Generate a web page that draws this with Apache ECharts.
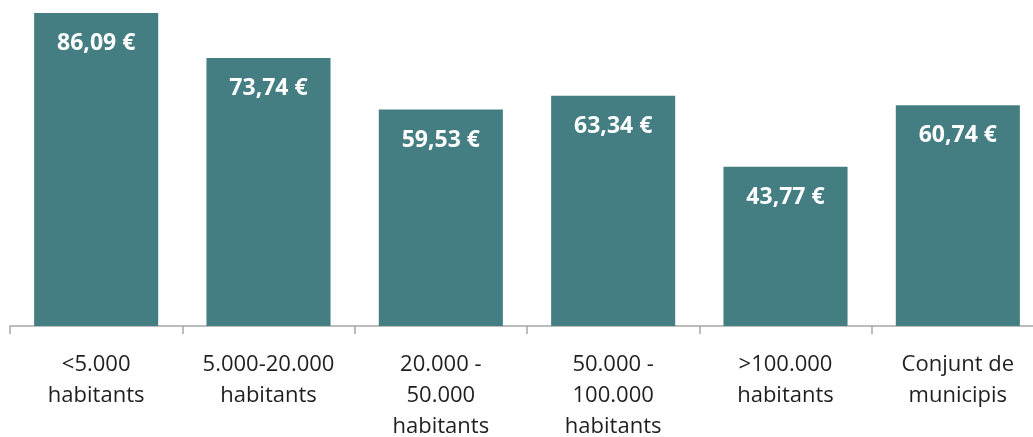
<!DOCTYPE html>
<html>
<head>
<meta charset="utf-8">
<script src="https://cdn.jsdelivr.net/npm/echarts@6/dist/echarts.min.js"></script>
<style>
  html, body { margin: 0; padding: 0; background: #fff; }
  #chart { width: 1033px; height: 437px; }
</style>
</head>
<body>
<div id="chart"></div>
<script>
// categories et valeurs (EUR par habitant)
let categories = ['<5.000\nhabitants', '5.000-20.000\nhabitants', '20.000 -\n50.000\nhabitants',
  '50.000 -\n100.000\nhabitants', '>100.000\nhabitants', 'Conjunt de\nmunicipis'];
let values = [86.09, 73.74, 59.53, 63.34, 43.77, 60.74];

let barColor = '#447e83';

let chart = echarts.init(document.getElementById('chart'));
let option = {
  animation: false,
  grid: { left: 10, right: -11, top: 0, bottom: 111, outerBoundsMode: 'none', containLabel: false },
  xAxis: {
    type: 'category',
    data: categories,
    axisLine: { lineStyle: { color: '#a6a6a6', width: 1.5 } },
    axisTick: { show: true, length: 8, lineStyle: { color: '#a6a6a6', width: 1.5 } },
    axisLabel: {
      color: '#1f1f1f',
      fontFamily: 'Open Sans',
      fontSize: 22,
      lineHeight: 31,
      margin: 23,
      interval: 0
    }
  },
  yAxis: {
    type: 'value',
    min: 0,
    max: 89.66,
    show: false
  },
  series: [
    {
      type: 'bar',
      data: values,
      barCategoryGap: '28%',
      itemStyle: { color: barColor },
      label: {
        show: true,
        position: 'insideTop',
        distance: 19,
        color: '#fff',
        fontWeight: 'bold',
        fontFamily: 'Open Sans',
        fontSize: 23,
        formatter: function (p) {
          return p.value.toFixed(2).replace('.', ',') + ' €';
        }
      }
    }
  ]
};
chart.setOption(option);
</script>
</body>
</html>
